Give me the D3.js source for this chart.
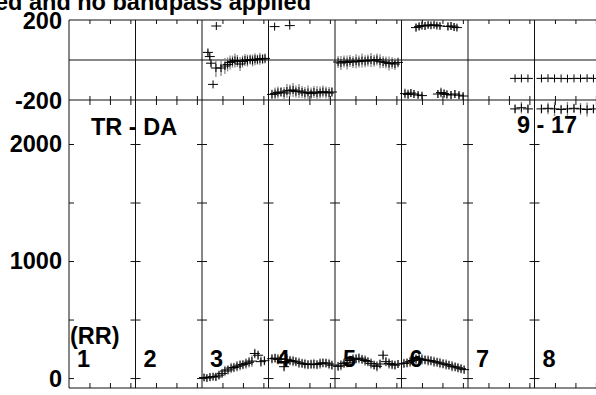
<!DOCTYPE html>
<html>
<head>
<meta charset="utf-8">
<script src="https://cdn.jsdelivr.net/npm/d3@7"></script>
<style>
body { margin: 0; background: #fff; }
svg { display: block; }
text { font-family: "Liberation Sans", Arial, sans-serif; font-weight: bold; fill: #000; font-size: 23.5px; }
</style>
</head>
<body>
<div id="chart"></div>
<script>
// panels (one per antenna), each spans panelHours of time
const panelLabels = ["1", "2", "3", "4", "5", "6", "7", "8"];
const panelHours = 3.25;
const hourTicks = [1, 2, 3];
const phaseTicks = [-200, 200];
const ampTicks = [0, 1000, 2000];
const ampMinorTicks = [500, 1500];
const title = "Data uncalibrated and no bandpass applied";
const baselineLabels = ["TR - DA", "9 - 17"];
const polLabel = "(RR)";

// [time (h), phase (deg), error]
const phaseP3 = [[0.29, 38, 15], [0.38, 17, 15], [0.44, -16, 20], [0.54, -122, 0], [0.68, -40, 45],
  [0.70, 170, 0], [0.93, -40, 40], [1.12, -30, 40], [1.25, -22, 35], [1.37, -12, 35], [1.49, -8, 30],
  [1.61, -2, 35], [1.73, -5, 30], [1.86, -20, 35], [1.98, -8, 30], [2.10, 0, 30], [2.22, -3, 30],
  [2.35, 2, 25], [2.47, -2, 30], [2.59, 4, 30], [2.71, 2, 25], [2.83, 6, 30], [2.96, 5, 25], [3.08, 8, 25]];
const phaseP4 = [[0.30, 167, 0], [1.04, 172, 0],
  [0.17, -172, 25], [0.32, -168, 30], [0.46, -162, 30], [0.61, -160, 25], [0.76, -165, 30], [0.90, -155, 35],
  [1.05, -152, 30], [1.20, -150, 35], [1.34, -158, 30], [1.49, -155, 35], [1.64, -160, 30], [1.78, -165, 30],
  [1.93, -162, 35], [2.08, -168, 30], [2.22, -160, 30], [2.37, -165, 35], [2.52, -163, 30], [2.66, -158, 30],
  [2.81, -162, 30], [2.96, -165, 30], [3.10, -160, 25]];
const phaseP5 = [[0.15, -10, 30], [0.29, -15, 35], [0.44, -8, 30], [0.59, -12, 35], [0.73, -5, 30], [0.88, -10, 30],
  [1.03, -6, 35], [1.17, -8, 30], [1.32, -3, 35], [1.47, -6, 30], [1.61, -2, 30], [1.76, 0, 35], [1.91, -4, 30],
  [2.05, 2, 30], [2.20, -6, 35], [2.35, -10, 30], [2.49, -12, 30], [2.64, -18, 35], [2.79, -15, 30],
  [2.93, -20, 30], [3.08, -12, 25]];
const phaseP6 = [[0.71, 162, 20], [0.86, 168, 20], [1.00, 172, 20], [1.15, 170, 20], [1.30, 175, 15],
  [1.44, 173, 15], [1.59, 176, 15], [1.73, 172, 15], [1.88, 170, 15], [2.27, 168, 20], [2.42, 170, 20],
  [2.57, 165, 20], [2.71, 162, 15],
  [0.17, -168, 25], [0.32, -172, 25], [0.46, -165, 20], [0.61, -170, 20], [0.81, -175, 15], [1.00, -178, 15],
  [1.78, -170, 20], [1.93, -163, 25], [2.08, -168, 20], [2.22, -172, 20], [2.42, -175, 20], [2.61, -170, 20],
  [2.81, -176, 20], [3.01, -180, 15]];
const phaseP7 = [[2.30, -92, 0], [2.61, -92, 0], [2.93, -92, 0]];
const phaseP8 = [[0.34, -92, 0], [0.66, -91, 0], [0.98, -92, 0], [1.30, -92, 0], [1.61, -93, 0],
  [1.93, -92, 0], [2.25, -92, 0], [2.57, -91, 0], [2.88, -92, 0]];

// [time (h), amplitude, error]
const ampP3 = [[0.10, 5, 30], [0.24, 0, 30], [0.39, 8, 35], [0.54, 12, 30], [0.68, 10, 35], [0.83, 25, 40],
  [0.98, 40, 40], [1.12, 60, 45], [1.27, 70, 40], [1.42, 85, 45], [1.56, 90, 40], [1.71, 100, 45],
  [1.86, 110, 45], [2.00, 115, 40], [2.15, 125, 45], [2.30, 135, 45], [2.44, 145, 50], [2.58, 210, 40],
  [2.74, 195, 40], [2.88, 140, 45], [3.05, 148, 40]];
const ampP4 = [[0.17, 165, 40], [0.32, 170, 40], [0.46, 160, 45], [0.61, 165, 40], [0.76, 97, 40],
  [0.90, 160, 45], [1.05, 150, 40], [1.20, 145, 45], [1.34, 140, 40], [1.49, 130, 45], [1.64, 125, 40],
  [1.78, 120, 45], [1.93, 115, 40], [2.08, 118, 40], [2.22, 120, 45], [2.37, 115, 40], [2.52, 125, 45],
  [2.66, 130, 40], [2.81, 128, 40], [2.96, 120, 45], [3.10, 110, 40]];
const ampP5 = [[0.15, 100, 40], [0.29, 110, 45], [0.44, 125, 40], [0.59, 135, 45], [0.73, 150, 40],
  [0.88, 160, 45], [1.03, 165, 40], [1.17, 170, 45], [1.32, 160, 40], [1.47, 150, 45], [1.61, 140, 40],
  [1.76, 125, 45], [1.91, 110, 40], [2.05, 100, 45], [2.20, 120, 40], [2.35, 195, 45], [2.49, 140, 40],
  [2.64, 125, 45], [2.79, 115, 40], [2.93, 110, 40], [3.08, 120, 35]];
const ampP6 = [[0.12, 125, 40], [0.27, 130, 40], [0.42, 140, 45], [0.56, 150, 40], [0.71, 160, 45],
  [0.86, 165, 40], [1.00, 160, 45], [1.15, 155, 40], [1.30, 150, 45], [1.44, 148, 40], [1.59, 140, 45],
  [1.74, 135, 40], [1.88, 128, 45], [2.03, 122, 40], [2.18, 115, 45], [2.32, 110, 40], [2.47, 100, 45],
  [2.62, 95, 40], [2.76, 88, 40], [2.91, 80, 40], [3.06, 72, 35]];
const ampP7 = [[2.30, 2300, 40], [2.61, 2310, 50], [2.93, 2300, 40]];
const ampP8 = [[0.34, 2300, 40], [0.66, 2305, 50], [0.98, 2300, 60], [1.30, 2295, 40], [1.61, 2300, 60],
  [1.93, 2305, 40], [2.25, 2300, 50], [2.57, 2295, 60], [2.88, 2300, 40]];

const phaseSeries = [[3, phaseP3], [4, phaseP4], [5, phaseP5], [6, phaseP6], [7, phaseP7], [8, phaseP8]];
const ampSeries = [[3, ampP3], [4, ampP4], [5, ampP5], [6, ampP6], [7, ampP7], [8, ampP8]];

const width = 596, height = 395;
const nPanels = panelLabels.length;

const svg = d3.select("#chart")
    .append("svg")
    .attr("width", width)
    .attr("height", height);

const x = d3.scaleLinear().domain([0, nPanels * panelHours]).range([69, 601]);
const yPhase = d3.scaleLinear().domain([-200, 200]).range([100, 20]);
const yAmp = d3.scaleLinear().domain([-85, 2376]).range([388, 100]);

const panelStarts = d3.range(nPanels + 1).map(i => i * panelHours);
const timeTicks = [];
panelStarts.slice(0, nPanels).forEach(p => hourTicks.forEach(h => timeTicks.push(p + h)));

// title (left part runs off the page)
svg.append("text")
    .attr("x", 311)
    .attr("y", 9.5)
    .attr("text-anchor", "end")
    .text(title);

const frame = svg.append("g").attr("stroke", "#111").attr("stroke-width", 1).attr("fill", "none");

// time ticks on every horizontal edge
function timeAxis(axis, y, size) {
    const g = svg.append("g")
        .attr("transform", `translate(0,${y})`)
        .call(axis(x).tickValues(timeTicks).tickSize(size).tickFormat(""));
    g.select(".domain").remove();
    g.selectAll("line").attr("stroke", "#111");
}
timeAxis(d3.axisBottom, yPhase(200), 4);
timeAxis(d3.axisTop, yPhase(-200), 4);
timeAxis(d3.axisBottom, yAmp.range()[1], 5);
timeAxis(d3.axisTop, yAmp.range()[0], 5);

// amplitude ticks on each panel boundary
panelStarts.forEach((p, i) => {
    const ticks = ampTicks.concat(ampMinorTicks);
    if (i < nPanels) {
        const g = svg.append("g")
            .attr("transform", `translate(${x(p)},0)`)
            .call(d3.axisLeft(yAmp).tickValues(ticks).tickSize(-5).tickFormat(""));
        g.select(".domain").remove();
        g.selectAll("line").attr("stroke", "#111");
    }
    if (i > 0) {
        const g = svg.append("g")
            .attr("transform", `translate(${x(p)},0)`)
            .call(d3.axisRight(yAmp).tickValues(ticks).tickSize(-5).tickFormat(""));
        g.select(".domain").remove();
        g.selectAll("line").attr("stroke", "#111");
    }
});

// frame lines
[yPhase(200), yPhase(-200), yAmp.range()[0], yPhase(0)].forEach(yy => {
    frame.append("line").attr("x1", x(0)).attr("x2", x(nPanels * panelHours)).attr("y1", yy).attr("y2", yy);
});
panelStarts.forEach(p => {
    frame.append("line").attr("x1", x(p)).attr("x2", x(p))
        .attr("y1", yPhase(200)).attr("y2", yAmp.range()[0]);
});

// y labels
phaseTicks.forEach(v => {
    svg.append("text").attr("x", 62).attr("y", yPhase(v) + 1).attr("dy", "0.36em")
        .attr("text-anchor", "end").text(v);
});
ampTicks.forEach(v => {
    svg.append("text").attr("x", 62).attr("y", yAmp(v)).attr("dy", "0.36em")
        .attr("text-anchor", "end").text(v);
});

// data: gray error bars, then black crosses
function drawSeries(series, y) {
    series.forEach(([panel, pts]) => {
        const p0 = (panel - 1) * panelHours;
        const g = svg.append("g");
        g.selectAll("line.err")
            .data(pts.filter(d => d[2] > 0))
            .join("line")
            .attr("x1", d => x(p0 + d[0])).attr("x2", d => x(p0 + d[0]))
            .attr("y1", d => y(d[1] - d[2])).attr("y2", d => y(d[1] + d[2]))
            .attr("stroke", "#888").attr("stroke-width", 1.3);
        g.selectAll("line.h")
            .data(pts)
            .join("line")
            .attr("x1", d => x(p0 + d[0]) - 5).attr("x2", d => x(p0 + d[0]) + 5)
            .attr("y1", d => y(d[1])).attr("y2", d => y(d[1]))
            .attr("stroke", "#000").attr("stroke-width", 1);
        g.selectAll("line.v")
            .data(pts)
            .join("line")
            .attr("x1", d => x(p0 + d[0])).attr("x2", d => x(p0 + d[0]))
            .attr("y1", d => y(d[1]) - 4).attr("y2", d => y(d[1]) + 4)
            .attr("stroke", "#000").attr("stroke-width", 1);
    });
}
drawSeries(phaseSeries, yPhase);
drawSeries(ampSeries, yAmp);

// panel labels
panelLabels.forEach((lab, i) => {
    svg.append("text")
        .attr("x", x(i * panelHours) + 8)
        .attr("y", 367)
        .text(lab);
});
svg.append("text").attr("x", 70).attr("y", 344).text(polLabel);
svg.append("text").attr("x", 91).attr("y", 135).text(baselineLabels[0]);
svg.append("text").attr("x", 517).attr("y", 133).text(baselineLabels[1]);
</script>
</body>
</html>
